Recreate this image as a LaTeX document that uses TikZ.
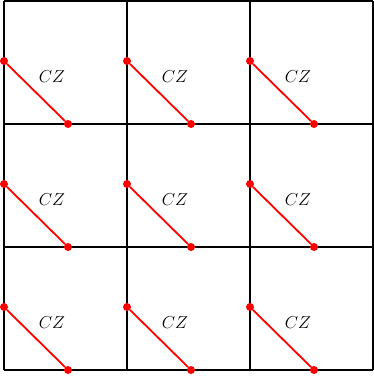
\documentclass[tikz,border=0pt]{standalone}
\usepackage{tikz}
\tikzstyle{gridln} = [draw, line width=1.6pt]
\tikzstyle{dot} = [circle, fill=red, inner sep=0pt, minimum size=8pt]
\tikzstyle{gate} = [style={red, line width=1.8pt}]
\tikzstyle{lbl} = [font=\fontsize{17.5}{20}\selectfont]

\begin{document}
\begin{tikzpicture}[x=1pt,y=-1pt]
  \useasboundingbox (0,0) rectangle (373,378);
  % lattice
  \foreach \k in {0,1,2,3} {
    \draw[gridln] (4+123*\k,1) -- (4+123*\k,370);
    \draw[gridln] (4,1+123*\k) -- (373,1+123*\k);
  }
  % one CZ per cell
  \foreach \r in {0,1,2} {
    \foreach \c in {0,1,2} {
      \node[dot] (l\r\c) at (4+123*\c,61+123*\r) {};
      \node[dot] (b\r\c) at (68+123*\c,124+123*\r) {};
      \draw[gate] (l\r\c) -- (b\r\c);
      \node[lbl] (cz\r\c) at (52+123*\c,77+123*\r) {$CZ$};
    }
  }
\end{tikzpicture}
\end{document}
